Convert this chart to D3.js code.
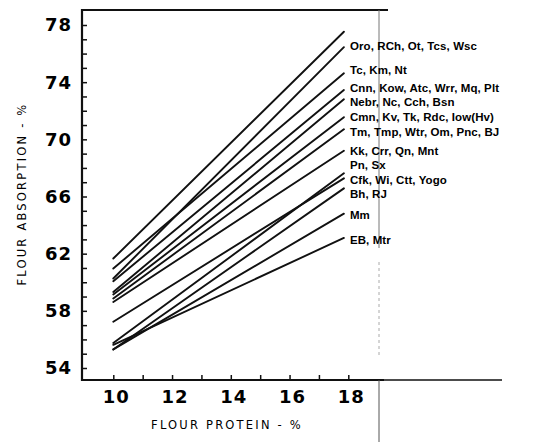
<!DOCTYPE html>
<html>
<head>
<meta charset="utf-8">
<script src="https://cdn.jsdelivr.net/npm/d3@7"></script>
<style>
  html, body { margin: 0; padding: 0; background: #fff; }
  svg { display: block; }
</style>
</head>
<body>
<svg id="chart" width="539" height="442"></svg>
<script>
// Flour absorption vs. flour protein, one regression line per cultivar group.
const proteinRange = [10, 17.85];

// Cultivar groups (top line carries no label)
const groups = [
  "",
  "Oro, RCh, Ot, Tcs, Wsc",
  "Tc, Km, Nt",
  "Cnn, Kow, Atc, Wrr, Mq, Plt",
  "Nebr, Nc, Cch, Bsn",
  "Cmn, Kv, Tk, Rdc, Iow(Hv)",
  "Tm, Tmp, Wtr, Om, Pnc, BJ",
  "Kk, Crr, Qn, Mnt",
  "Pn, Sx",
  "Cfk, Wi, Ctt, Yogo",
  "Bh, RJ",
  "Mm",
  "EB, Mtr"
];

// Absorption (%) at the low and high ends of the protein range
const absorptionLow  = [61.66, 60.26, 60.96, 60.07, 59.32, 59.14, 58.86, 58.62, 55.75, 57.24, 55.30, 55.30, 55.62];
const absorptionHigh = [77.53, 76.45, 74.62, 73.45, 72.80, 71.55, 70.70, 69.20, 67.62, 67.27, 66.57, 64.80, 63.10];

const xTicks = [10, 12, 14, 16, 18];
const yTicks = [54, 58, 62, 66, 70, 74, 78];

// vertical offsets (px) that keep the crowded labels apart
const labelShift = [0, -1, -3, -2, 2.5, 0, 2.5, 0, -8, 2, 6, 1.5, 2];

const svg = d3.select("#chart");
const x = d3.scaleLinear().domain([10, 18]).range([113.3, 348.3]);
const y = d3.scaleLinear().domain([54, 78]).range([368, 25]);

const frameLeft = 82, frameTop = 10, frameBottom = 380, frameRight = 379;

// Minor ticks every unit, drawn inward
const yAxis = d3.axisRight(y).tickValues(d3.range(54, 79, 1)).tickSize(5).tickFormat("");
svg.append("g").attr("transform", `translate(${frameLeft},0)`).call(yAxis)
  .call(g => g.select(".domain").remove())
  .selectAll("line").attr("stroke", "#111").attr("stroke-width", 1.5);

const xAxis = d3.axisTop(x).tickValues(d3.range(10, 19, 1)).tickSize(5).tickFormat("");
svg.append("g").attr("transform", `translate(0,${frameBottom})`).call(xAxis)
  .call(g => g.select(".domain").remove())
  .selectAll("line").attr("stroke", "#111").attr("stroke-width", 1.5);

// Frame
svg.append("line").attr("x1", frameLeft).attr("x2", frameLeft).attr("y1", frameTop - 1).attr("y2", frameBottom + 1)
  .attr("stroke", "#111").attr("stroke-width", 2.2);
svg.append("line").attr("x1", frameLeft).attr("x2", 388).attr("y1", frameTop).attr("y2", frameTop)
  .attr("stroke", "#111").attr("stroke-width", 2.2);
svg.append("line").attr("x1", frameLeft).attr("x2", 384).attr("y1", frameBottom).attr("y2", frameBottom)
  .attr("stroke", "#111").attr("stroke-width", 2.2);
svg.append("line").attr("x1", 384).attr("x2", 502).attr("y1", frameBottom).attr("y2", frameBottom)
  .attr("stroke", "#111").attr("stroke-width", 1.6);

// Right edge rule
svg.append("line").attr("x1", frameRight).attr("x2", frameRight).attr("y1", frameTop).attr("y2", 248)
  .attr("stroke", "#777").attr("stroke-width", 1);
svg.append("line").attr("x1", frameRight).attr("x2", frameRight).attr("y1", 262).attr("y2", 357)
  .attr("stroke", "#aaa").attr("stroke-width", 1).attr("stroke-dasharray", "3,3");
svg.append("line").attr("x1", frameRight).attr("x2", frameRight).attr("y1", frameBottom).attr("y2", 442)
  .attr("stroke", "#555").attr("stroke-width", 1);

// Tick labels
svg.append("g").selectAll("text").data(yTicks).join("text")
  .attr("x", 72).attr("y", d => y(d)).attr("dy", "0.36em")
  .attr("text-anchor", "end")
  .attr("font-family", "DejaVu Sans, sans-serif").attr("font-weight", "bold")
  .attr("font-size", 18).attr("letter-spacing", 1)
  .text(d => d);

svg.append("g").selectAll("text").data(xTicks).join("text")
  .attr("x", d => x(d) + 3).attr("y", 397).attr("dy", "0.36em")
  .attr("text-anchor", "middle")
  .attr("font-family", "DejaVu Sans, sans-serif").attr("font-weight", "bold")
  .attr("font-size", 18).attr("letter-spacing", 1)
  .text(d => d);

// Axis titles
svg.append("text")
  .attr("transform", `translate(22,194) rotate(-90)`)
  .attr("text-anchor", "middle").attr("dy", "0.36em")
  .attr("font-family", "DejaVu Sans, sans-serif").attr("font-size", 11.5)
  .attr("letter-spacing", 2.2)
  .text("FLOUR ABSORPTION - %");

svg.append("text")
  .attr("x", 227).attr("y", 425).attr("dy", "0.36em")
  .attr("text-anchor", "middle")
  .attr("font-family", "DejaVu Sans, sans-serif").attr("font-size", 11.5)
  .attr("letter-spacing", 2.2)
  .text("FLOUR PROTEIN - %");

// Regression lines
const rows = groups.map((g, i) => ({
  name: g,
  pts: [[proteinRange[0], absorptionLow[i]], [proteinRange[1], absorptionHigh[i]]],
  shift: labelShift[i]
}));

const line = d3.line().x(d => x(d[0])).y(d => y(d[1]));
svg.append("g").selectAll("path").data(rows).join("path")
  .attr("d", d => line(d.pts))
  .attr("fill", "none").attr("stroke", "#111").attr("stroke-width", 1.9)
  .attr("stroke-linecap", "round");

// Group labels at the line ends
svg.append("g").selectAll("text").data(rows.filter(r => r.name)).join("text")
  .attr("x", x(proteinRange[1]) + 6)
  .attr("y", d => y(d.pts[1][1]) + d.shift).attr("dy", "0.36em")
  .attr("font-family", "Liberation Sans, Arial, sans-serif").attr("font-weight", "bold")
  .attr("font-size", 11.5).attr("letter-spacing", 0.1)
  .text(d => d.name);
</script>
</body>
</html>
